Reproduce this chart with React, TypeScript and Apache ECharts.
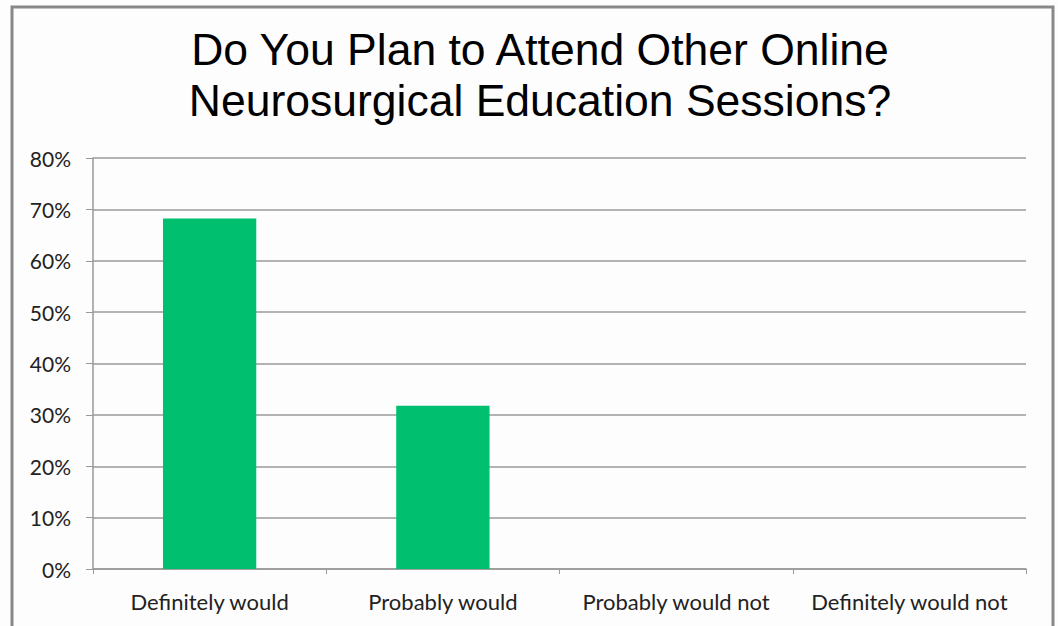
import React, { useEffect, useRef } from "react";
import * as echarts from "echarts";

const titleLines = ["Do You Plan to Attend Other Online", "Neurosurgical Education Sessions?"];
const categories = ["Definitely would", "Probably would", "Probably would not", "Definitely would not"];
const values = [68.2, 31.8, 0, 0];
const yMin = 0;
const yMax = 80;
const yStep = 10;

export default function App() {
  const ref = useRef<HTMLDivElement>(null);
  useEffect(() => {
    document.body.style.margin = "0";
    const chart = echarts.init(ref.current!, undefined, { renderer: "svg" });
    chart.setOption({
      animation: false,
      backgroundColor: "#fdfdfd",
      title: {
        text: titleLines.join("\n"),
        left: 535,
        textAlign: "center",
        top: 19,
        textStyle: {
          fontFamily: "Liberation Sans",
          fontSize: 44.5,
          fontWeight: "normal",
          color: "#000",
          lineHeight: 51,
        },
      },
      graphic: [
        {
          type: "rect",
          shape: { x: 12, y: 7, width: 1041, height: 640 },
          style: { fill: "none", stroke: "#888", lineWidth: 3 },
          silent: true,
        },
      ],
      grid: { left: 93, right: 32, top: 158, bottom: 57, containLabel: false },
      xAxis: {
        type: "category",
        data: categories,
        axisLine: { show: true, lineStyle: { color: "#999", width: 1.5 } },
        axisTick: { show: true, interval: 0, length: 5, lineStyle: { color: "#999" } },
        axisLabel: {
          interval: 0,
          margin: 21,
          fontFamily: "Lato",
          fontSize: 22,
          color: "#222",
        },
      },
      yAxis: {
        type: "value",
        min: yMin,
        max: yMax,
        interval: yStep,
        axisLine: { show: true, lineStyle: { color: "#999", width: 1.5 } },
        axisTick: { show: true, length: 7, lineStyle: { color: "#999" } },
        axisLabel: {
          formatter: "{value}%",
          margin: 22,
          fontFamily: "Lato",
          fontSize: 21,
          color: "#222",
        },
        splitLine: { show: true, lineStyle: { color: "#9a9a9a", width: 1.5 } },
      },
      series: [
        {
          type: "bar",
          data: values,
          barWidth: "40%",
          itemStyle: { color: "#00C06F" },
        },
      ],
    });
    return () => chart.dispose();
  }, []);
  return <div ref={ref} style={{ width: 1058, height: 626 }} />;
}
